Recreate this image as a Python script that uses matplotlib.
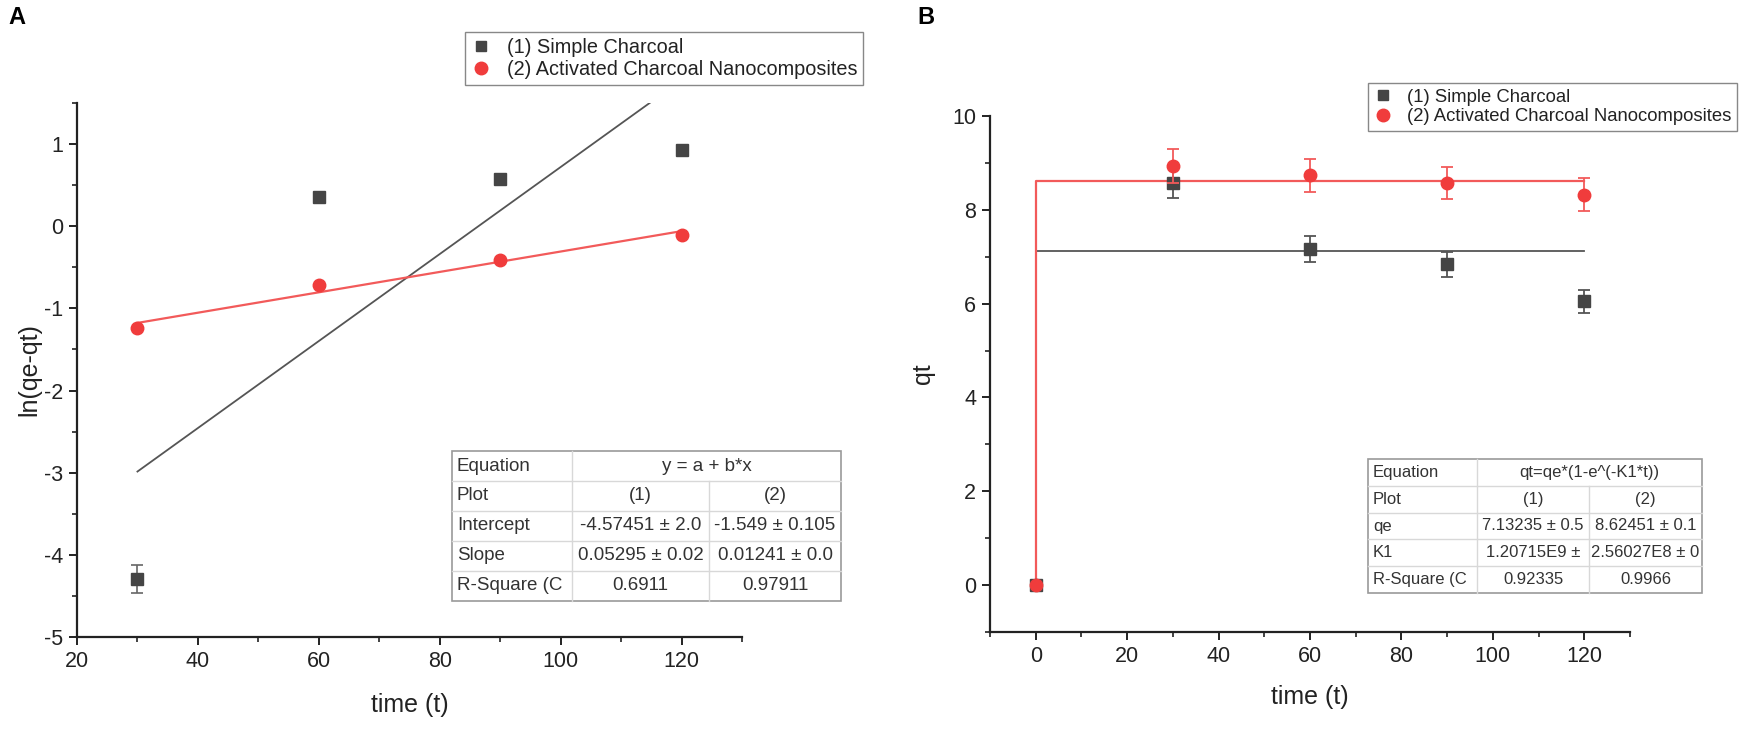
import numpy as np
import matplotlib
matplotlib.use('Agg')
import matplotlib.pyplot as plt
from matplotlib.lines import Line2D
from matplotlib.patches import Rectangle
from matplotlib.ticker import MultipleLocator

plt.rcParams['font.family'] = ['Liberation Sans', 'DejaVu Sans']
plt.rcParams['axes.unicode_minus'] = False

# ---- data: panel A (pseudo-first-order linear plot) ----
t_a = [30, 60, 90, 120]
ln_simple = [-4.29, 0.35, 0.57, 0.93]
ln_simple_err = [0.17, 0.0, 0.0, 0.0]
ln_activated = [-1.235, -0.72, -0.41, -0.11]

fit_a_x = [30, 120]
intercept_a = [-4.57451, -1.549]
slope_a = [0.05295, 0.01241]

# ---- data: panel B (qt vs time) ----
t_b = [0, 30, 60, 90, 120]
qt_simple = [0, 8.57, 7.16, 6.84, 6.05]
qt_simple_err = [0, 0.32, 0.28, 0.27, 0.25]
qt_activated = [0, 8.93, 8.74, 8.57, 8.32]
qt_activated_err = [0, 0.36, 0.35, 0.35, 0.35]

qe_b = [7.13235, 8.62451]
k1_b = [1.20715e9, 2.56027e8]

series_names = ['(1) Simple Charcoal', '(2) Activated Charcoal Nanocomposites']

table_a = [
    ['Equation', 'y = a + b*x'],
    ['Plot', '(1)', '(2)'],
    ['Intercept', '-4.57451 ± 2.0', '-1.549 ± 0.105'],
    ['Slope', '0.05295 ± 0.02', '0.01241 ± 0.0'],
    ['R-Square (C', '0.6911', '0.97911'],
]
table_b = [
    ['Equation', 'qt=qe*(1-e^(-K1*t))'],
    ['Plot', '(1)', '(2)'],
    ['qe', '7.13235 ± 0.5', '8.62451 ± 0.1'],
    ['K1', '1.20715E9 ±', '2.56027E8 ± 0'],
    ['R-Square (C', '0.92335', '0.9966'],
]

W, H = 1755, 729
DARK = '#454545'
RED = '#f03c3c'
RED_LINE = '#f25a5a'
AXC = '#222222'


def fx(px):
    return px / W


def fy(py):
    return 1 - py / H


fig = plt.figure(figsize=(W / 100, H / 100), dpi=100, facecolor='white')
ax1 = fig.add_axes([fx(77), fy(637), (742 - 77) / W, (637 - 103) / H])
ax2 = fig.add_axes([fx(990), fy(632), (1630 - 990) / W, (632 - 116) / H])


def style_axes(ax):
    for s in ['top', 'right']:
        ax.spines[s].set_visible(False)
    for s in ['left', 'bottom']:
        ax.spines[s].set_linewidth(1.6)
        ax.spines[s].set_color(AXC)
    ax.tick_params(which='major', length=6, width=1.4, colors=AXC, labelsize=15.5, pad=4)
    ax.tick_params(which='minor', length=3.5, width=1.2, colors=AXC)


# ---- panel A ----
for a, b, c, lw in zip(intercept_a, slope_a, ['#555555', RED_LINE], [1.3, 1.6]):
    xs = np.array(fit_a_x, dtype=float)
    ax1.plot(xs, a + b * xs, color=c, lw=lw, zorder=2)
ax1.errorbar(t_a, ln_simple, yerr=ln_simple_err, fmt='s', color=DARK, ms=8,
             ecolor='#666666', elinewidth=1.2, capsize=4, capthick=1.2, zorder=3)
ax1.plot(t_a, ln_activated, 'o', color=RED, ms=9, zorder=4)

ax1.set_xlim(20, 130)
ax1.set_ylim(-5, 1.5)
ax1.xaxis.set_minor_locator(MultipleLocator(10))
ax1.yaxis.set_major_locator(MultipleLocator(1))
ax1.yaxis.set_minor_locator(MultipleLocator(0.5))
ax1.set_xticks([20, 40, 60, 80, 100, 120])
style_axes(ax1)
ax1.set_xlabel('time (t)', fontsize=18, labelpad=15, color=AXC)
ax1.set_ylabel('ln(qe-qt)', fontsize=18, labelpad=2, color=AXC)

# ---- panel B ----
t_fit = np.concatenate([[0.0], np.linspace(1e-6, 120, 60)])
for qe, k1, c, lw in zip(qe_b, k1_b, ['#555555', RED_LINE], [1.3, 1.6]):
    ax2.plot(t_fit, qe * (1 - np.exp(-k1 * t_fit)), color=c, lw=lw, zorder=2)
ax2.errorbar(t_b, qt_simple, yerr=qt_simple_err, fmt='s', color=DARK, ms=8,
             ecolor='#555555', elinewidth=1.3, capsize=4, capthick=1.3, zorder=3)
ax2.errorbar(t_b, qt_activated, yerr=qt_activated_err, fmt='o', color=RED, ms=9,
             ecolor=RED_LINE, elinewidth=1.3, capsize=4, capthick=1.3, zorder=4)

ax2.set_xlim(-10, 130)
ax2.set_ylim(-1, 10)
ax2.set_xticks([0, 20, 40, 60, 80, 100, 120])
ax2.xaxis.set_minor_locator(MultipleLocator(10))
ax2.set_yticks([0, 2, 4, 6, 8, 10])
ax2.yaxis.set_minor_locator(MultipleLocator(1))
style_axes(ax2)
ax2.set_xlabel('time (t)', fontsize=18, labelpad=13, color=AXC)
ax2.set_ylabel('qt', fontsize=18, labelpad=12, color=AXC)

# ---- legends ----
handles = [Line2D([], [], ls='none', marker='s', color=DARK, ms=7),
           Line2D([], [], ls='none', marker='o', color=RED, ms=9)]
for left, top, fs in [(465, 32, 14.3), (1368, 83, 13.3)]:
    leg = fig.legend(handles, series_names, loc='upper left',
                     bbox_to_anchor=(fx(left), fy(top)), fontsize=fs,
                     frameon=True, fancybox=False, edgecolor='#888888',
                     framealpha=1, borderpad=0.3, labelspacing=0.15,
                     handlelength=1.0, handletextpad=0.8, borderaxespad=0)
    leg.get_frame().set_linewidth(1.0)
    for txt in leg.get_texts():
        txt.set_color(AXC)


# ---- fit result tables ----
def draw_table(rows, left, top, col_edges, row_h, fs):
    right = col_edges[-1]
    n = len(rows)
    bottom = top + n * row_h
    fig.add_artist(Rectangle((fx(left), fy(bottom)), (right - left) / W, n * row_h / H,
                             transform=fig.transFigure, fill=True, facecolor='white',
                             edgecolor='#9a9a9a', lw=1.2, zorder=5))
    for i in range(1, n):
        yy = fy(top + i * row_h)
        fig.add_artist(Line2D([fx(left), fx(right)], [yy, yy], transform=fig.transFigure,
                              color='#d8d8d8', lw=1.0, zorder=6))
    fig.add_artist(Line2D([fx(col_edges[0]), fx(col_edges[0])], [fy(top), fy(bottom)],
                          transform=fig.transFigure, color='#d8d8d8', lw=1.0, zorder=6))
    fig.add_artist(Line2D([fx(col_edges[1]), fx(col_edges[1])], [fy(top + row_h), fy(bottom)],
                          transform=fig.transFigure, color='#d8d8d8', lw=1.0, zorder=6))
    for i, row in enumerate(rows):
        yc = fy(top + (i + 0.5) * row_h)
        fig.text(fx(left + 5), yc, row[0], ha='left', va='center', fontsize=fs,
                 color='#333333', zorder=7)
        if len(row) == 2:
            fig.text(fx((col_edges[0] + right) / 2), yc, row[1], ha='center', va='center',
                     fontsize=fs, color='#333333', zorder=7)
        else:
            edges = [col_edges[0], col_edges[1], right]
            for j in range(2):
                fig.text(fx((edges[j] + edges[j + 1]) / 2), yc, row[j + 1], ha='center',
                         va='center', fontsize=fs, color='#333333', zorder=7)


draw_table(table_a, 452, 451, [572, 709, 841], 30, 13.5)
draw_table(table_b, 1368, 459, [1477, 1589, 1702], 26.8, 12)

# panel letters
fig.text(fx(8), fy(18), 'A', fontsize=17, fontweight='bold', ha='left', va='center')
fig.text(fx(917), fy(18), 'B', fontsize=17, fontweight='bold', ha='left', va='center')

fig.savefig('out.png', dpi=100, facecolor='white')
